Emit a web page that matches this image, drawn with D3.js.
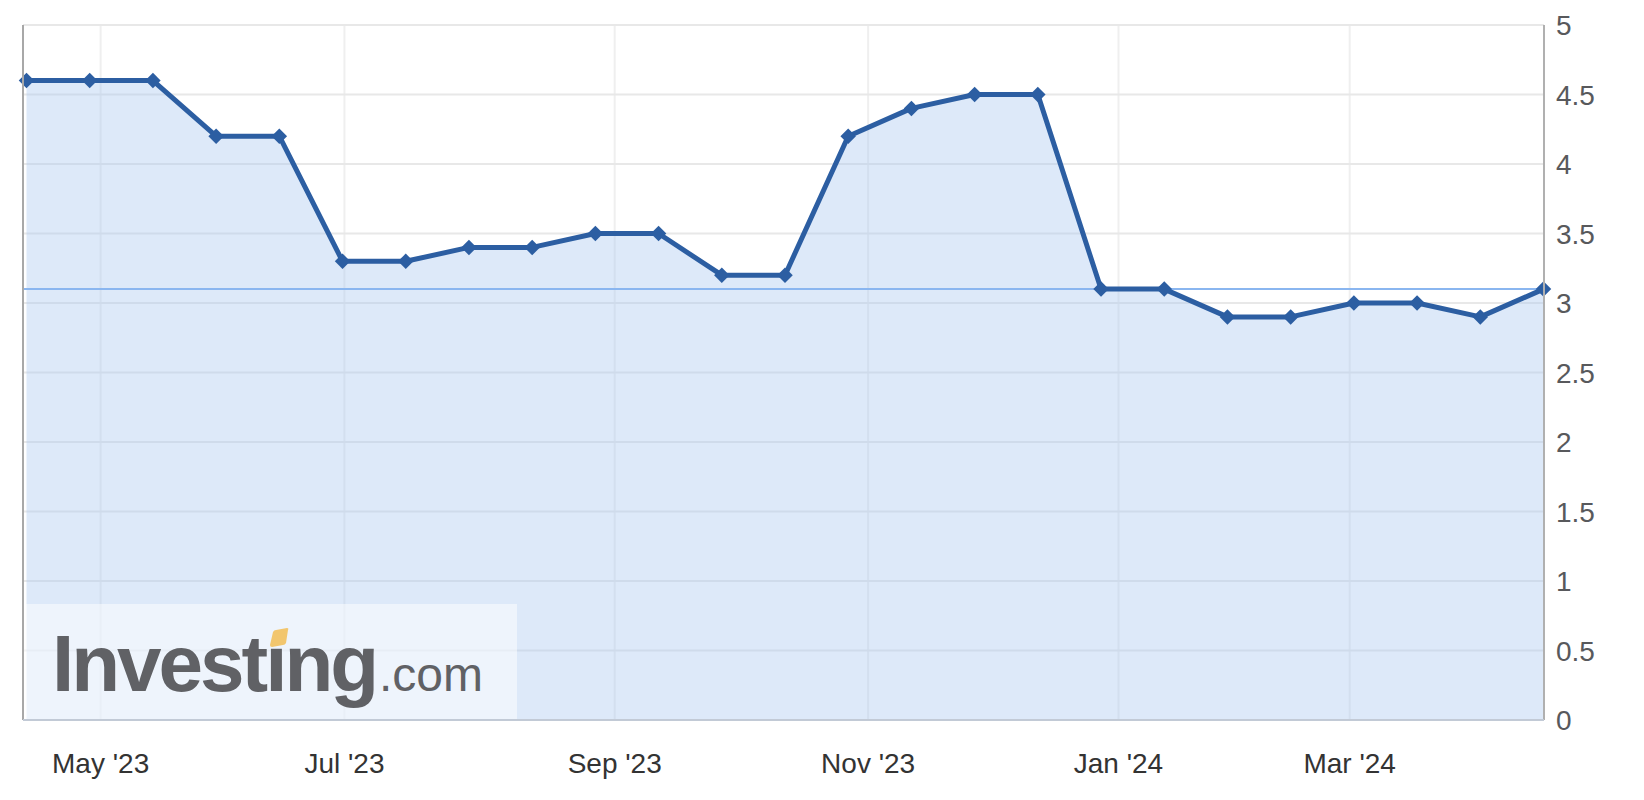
<!DOCTYPE html>
<html>
<head>
<meta charset="utf-8">
<script src="https://cdn.jsdelivr.net/npm/d3@7"></script>
<style>
  html, body { margin: 0; padding: 0; background: #fff; }
  svg { display: block; font-family: "Liberation Sans", Arial, sans-serif; }
</style>
</head>
<body>
<svg id="chart" width="1644" height="800"></svg>
<script>
// ---- data ----
const releaseDates = [
  "2023-04-14T14:00", "2023-04-28T14:00", "2023-05-12T14:00", "2023-05-26T14:00",
  "2023-06-16T14:00", "2023-06-30T14:00", "2023-07-14T14:00", "2023-07-28T14:00",
  "2023-08-11T14:00", "2023-08-25T14:00", "2023-09-15T14:00", "2023-09-29T14:00",
  "2023-10-13T14:00", "2023-10-27T14:00", "2023-11-10T14:00", "2023-11-22T14:00",
  "2023-12-08T14:00", "2023-12-27T14:00", "2024-01-12T14:00", "2024-01-26T14:00",
  "2024-02-16T14:00", "2024-03-01T23:00", "2024-03-14T14:00", "2024-03-28T14:00",
  "2024-04-12T14:00"
];
const values = [4.6, 4.6, 4.6, 4.2, 4.2, 3.3, 3.3, 3.4, 3.4, 3.5, 3.5, 3.2, 3.2,
                4.2, 4.4, 4.5, 4.5, 3.1, 3.1, 2.9, 2.9, 3.0, 3.0, 2.9, 3.1];
const yTickValues = [0, 0.5, 1, 1.5, 2, 2.5, 3, 3.5, 4, 4.5, 5];
const yTickLabels = ["0", "0.5", "1", "1.5", "2", "2.5", "3", "3.5", "4", "4.5", "5"];
const logoWord = "Investıng";
const logoSuffix = ".com";

// ---- layout ----
const plot = { left: 23, right: 1544, top: 25, bottom: 720 };
const parse = d3.timeParse("%Y-%m-%dT%H:%M");
const dates = releaseDates.map(parse);
const data = dates.map((d, i) => ({ date: d, value: values[i] }));

const svg = d3.select("#chart");

// ordinal-style time axis: points evenly spaced
const xIndex = d3.scaleLinear().domain([0, dates.length - 1]).range([26.5, 1543.5]);
const x = d3.scaleTime().domain(dates).range(dates.map((d, i) => xIndex(i)));
const y = d3.scaleLinear().domain([0, 5]).range([plot.bottom, plot.top]);

const monthTicks = x.ticks(d3.timeMonth.every(2));
const fmt = d3.timeFormat("%b '%y");

// vertical grid lines
svg.append("g").selectAll("line").data(monthTicks).join("line")
  .attr("x1", d => x(d)).attr("x2", d => x(d))
  .attr("y1", plot.top).attr("y2", plot.bottom)
  .attr("stroke", "#efefef").attr("stroke-width", 2);

// horizontal grid lines
svg.append("g").selectAll("line").data(yTickValues).join("line")
  .attr("x1", plot.left).attr("x2", plot.right)
  .attr("y1", d => y(d)).attr("y2", d => y(d))
  .attr("stroke", "#e8e8e8").attr("stroke-width", 2);

// area
const area = d3.area().x(d => x(d.date)).y0(y(0)).y1(d => y(d.value));
svg.append("path").datum(data)
  .attr("d", area)
  .attr("fill", "#a9c9f1").attr("fill-opacity", 0.4);

// logo box
svg.append("rect")
  .attr("x", plot.left).attr("y", 604)
  .attr("width", 494).attr("height", plot.bottom - 604)
  .attr("fill", "#ffffff").attr("fill-opacity", 0.5);

const logo = svg.append("g");
logo.append("text")
  .attr("x", 52).attr("y", 691)
  .attr("font-size", 80).attr("font-weight", "bold")
  .attr("letter-spacing", -3)
  .attr("fill", "#606165")
  .text(logoWord);
logo.append("text")
  .attr("x", 379).attr("y", 691)
  .attr("font-size", 48)
  .attr("fill", "#606165")
  .text(logoSuffix);
logo.append("path")
  .attr("d", "M273,632 Q274,630 276,630 L287,628 Q289,628 288,630 L286,643 Q285,645 283,645 L272,647 Q270,647 270,645 Z")
  .attr("fill", "#f2c66e");

// current value line
const last = values[values.length - 1];
svg.append("line")
  .attr("x1", plot.left).attr("x2", plot.right)
  .attr("y1", y(last)).attr("y2", y(last))
  .attr("stroke", "#8ab6f0").attr("stroke-width", 2);

// main line
const line = d3.line().x(d => x(d.date)).y(d => y(d.value));
svg.append("path").datum(data)
  .attr("d", line)
  .attr("fill", "none")
  .attr("stroke", "#2c5ea2").attr("stroke-width", 5)
  .attr("stroke-linejoin", "round");

// diamond markers
const diamond = d3.symbol().type(d3.symbolSquare).size(120);
svg.append("g").selectAll("path").data(data).join("path")
  .attr("d", diamond)
  .attr("transform", d => `translate(${x(d.date)},${y(d.value)}) rotate(45)`)
  .attr("fill", "#2c5ea2");

// axis lines
svg.append("line")
  .attr("x1", plot.left).attr("x2", plot.left)
  .attr("y1", plot.top).attr("y2", plot.bottom)
  .attr("stroke", "#a8a8a8").attr("stroke-width", 2);
svg.append("line")
  .attr("x1", plot.right).attr("x2", plot.right)
  .attr("y1", plot.top).attr("y2", plot.bottom)
  .attr("stroke", "#b0b0b0").attr("stroke-width", 2);
svg.append("line")
  .attr("x1", plot.left).attr("x2", plot.right)
  .attr("y1", plot.bottom).attr("y2", plot.bottom)
  .attr("stroke", "#c2cad6").attr("stroke-width", 2);

// y labels (right)
svg.append("g").selectAll("text").data(yTickValues).join("text")
  .attr("x", 1556).attr("y", d => y(d))
  .attr("dy", "0.37em")
  .attr("font-size", 28)
  .attr("fill", "#58595c")
  .text((d, i) => yTickLabels[i]);

// x labels
svg.append("g").selectAll("text").data(monthTicks).join("text")
  .attr("x", d => x(d)).attr("y", 773)
  .attr("text-anchor", "middle")
  .attr("font-size", 28)
  .attr("fill", "#333333")
  .text(d => fmt(d));
</script>
</body>
</html>
